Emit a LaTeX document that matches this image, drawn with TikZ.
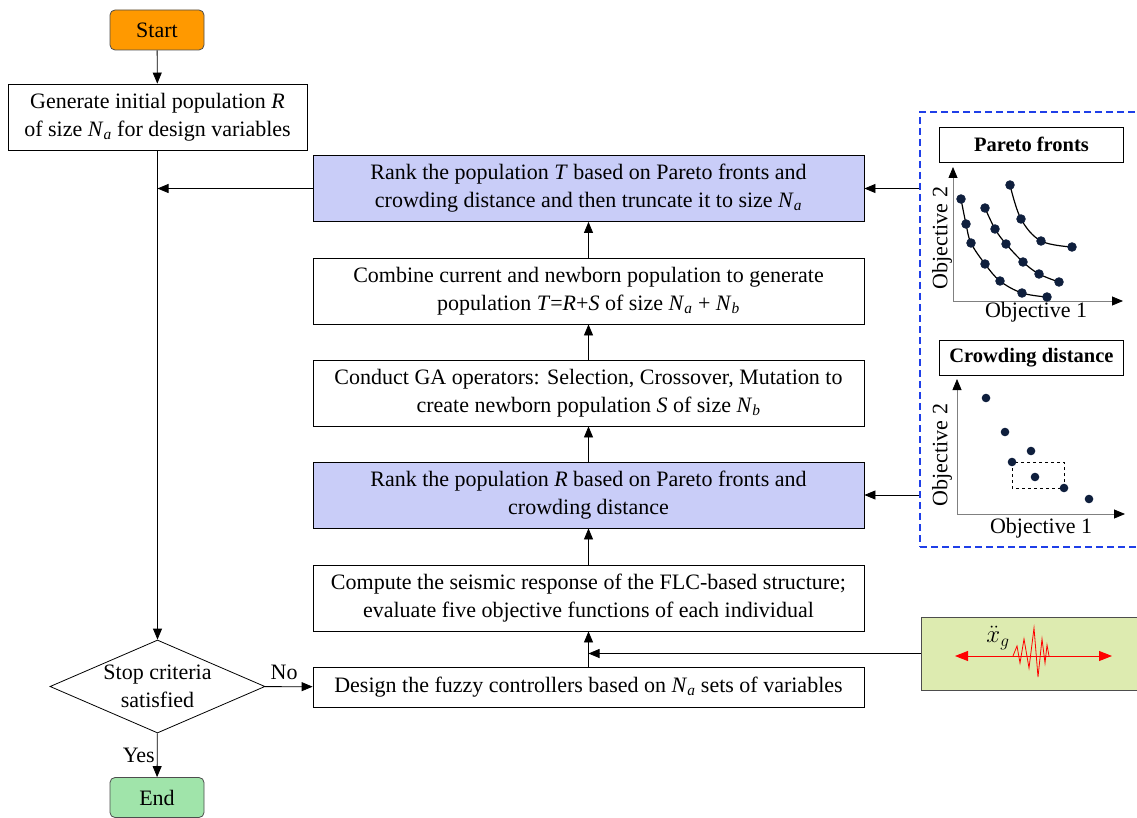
\documentclass[tikz,border=0pt]{standalone}
\usepackage{fontspec}
\setmainfont{Liberation Serif}
\usetikzlibrary{positioning,arrows.meta,shapes.geometric}
\definecolor{startfill}{HTML}{FF9900}
\definecolor{endfill}{HTML}{A0E4AA}
\definecolor{rankfill}{HTML}{C9CDF8}
\definecolor{quakefill}{HTML}{DDEBB0}
\definecolor{panelblue}{HTML}{1F3FE8}
\definecolor{dotblue}{HTML}{0F1F3D}
\definecolor{frame}{HTML}{4D4D4D}
\newcommand{\Na}{\textit{N}\textsubscript{\textit{a}}}
\newcommand{\Nb}{\textit{N}\textsubscript{\textit{b}}}

\begin{document}
\begin{tikzpicture}[x=1pt,y=-1pt,font=\fontsize{22}{28}\selectfont,line width=0.8pt,
    >={Triangle[length=11pt,width=9pt]},
    stepbox/.style={draw,minimum width=551pt,minimum height=66pt,align=center,inner sep=2pt},
    rankbox/.style={stepbox,fill=rankfill},
    term/.style={draw=frame,rounded corners=5pt,minimum width=94pt,minimum height=40pt},
    title/.style={draw,font=\fontsize{20.5}{22}\selectfont\bfseries,minimum width=184pt,minimum height=35pt},
    axlabel/.style={font=\fontsize{22}{24}\selectfont},
    axis/.style={draw=gray,-{Triangle[length=11pt,width=9pt,black]}}]
    \useasboundingbox (0,0) rectangle (1137,818);

    % main flow
    \node[term,fill=startfill] (start) at (157,30) {Start};
    \node[draw,minimum width=299pt,minimum height=66pt,align=center] (init) at (157.5,117)
      {Generate initial population \textit{R}\\of size \Na{} for design variables};
    \node[rankbox] (rankT) at (588.5,188.5)
      {Rank the population \textit{T} based on Pareto fronts and\\crowding distance and then truncate it to size \Na};
    \node[stepbox] (combine) at (588.5,291)
      {Combine current and newborn population to generate\\population \textit{T}=\textit{R}+\textit{S} of size \Na{} + \Nb};
    \node[stepbox] (ga) at (588.5,393)
      {Conduct GA operators: Selection, Crossover, Mutation to\\create newborn population \textit{S} of size \Nb};
    \node[rankbox] (rankR) at (588.5,495)
      {Rank the population \textit{R} based on Pareto fronts and\\crowding distance};
    \node[stepbox] (compute) at (588.5,598)
      {Compute the seismic response of the FLC-based structure;\\evaluate five objective functions of each individual};
    \node[stepbox,minimum height=40pt] (design) at (588.5,687)
      {Design the fuzzy controllers based on \Na{} sets of variables};
    \node[diamond,draw,align=center,aspect=2.3,inner sep=0pt,minimum width=215pt,minimum height=93pt]
      (stop) at (157.5,686.5) {Stop criteria\\satisfied};
    \node[term,fill=endfill] (end) at (157,797.5) {End};

    \draw[->] (start) -- (init);
    \draw[->] (init) -- (stop);
    \coordinate (merge) at (init.south |- rankT);
    \draw[->] (rankT) -- (merge);
    \foreach \a/\b in {design/compute,compute/rankR,rankR/ga,ga/combine,combine/rankT}
      \draw[->] (\a) -- (\b);
    \draw[->] (stop) -- node[above,pos=0.4,inner sep=7pt] (no) {No} (design);
    \draw[->] (stop) -- node[left,inner sep=2pt] (yes) {Yes} (end);

    % NSGA-II sketches
    \node[draw=panelblue,dash pattern=on 7pt off 4pt,line width=1.2pt,minimum width=220pt,
      minimum height=435pt] (panel) at (1030,329.5) {};
    \draw[->] (panel.west |- rankT) -- (rankT);
    \draw[->] (panel.west |- rankR) -- (rankR);

    \node[title] (pareto) at (1031.5,144.5) {Pareto fronts};
    \draw[axis] (953,301) -- (953,167);
    \draw[axis] (953,301) -- (1123,301);
    \node[axlabel] (p1) at (1036,312) {Objective 1};
    \node[axlabel,rotate=90] (p2) at (942,238) {Objective 2};
    \foreach \pts in {{(961,199)(966,224)(971,243)(985,264)(1000,281)(1022,293)(1047,297)},
      {(985,208)(995,229)(1006,244)(1023,262)(1039,274)(1059,282)},
      {(1010,185)(1021,219)(1041,241)(1072,247)}}{
      \draw[line width=1.2pt] plot[smooth,tension=0.6] coordinates {\pts};
      \fill[dotblue] plot[only marks,mark=*,mark size=4.3pt] coordinates {\pts};}

    \node[title] (crowd) at (1031.5,357.5) {Crowding distance};
    \draw[axis] (957,514) -- (957,379);
    \draw[axis] (957,514) -- (1125,514);
    \node[axlabel] (c1) at (1041,528) {Objective 1};
    \node[axlabel,rotate=90] (c2) at (942,455) {Objective 2};
    \draw[dashed,line width=0.7pt] (1012,462) rectangle (1064,488);
    \foreach \x/\y in {986/398,1005/432,1031/451,1012/462,1035/477,1064/488,1089/499}
      \fill[dotblue] (\x,\y) circle (4.3);

    % ground motion input
    \node[draw=frame,fill=quakefill,minimum width=220pt,minimum height=73pt] (quake) at (1031,653.5) {};
    \coordinate (feed) at (design.north |- quake);
    \draw[->] (quake) -- (feed);
    \draw[red,line width=0.9pt,{Triangle[length=13pt,width=10pt]}-{Triangle[length=13pt,width=10pt]}]
      (955,656) -- (1112,656);
    \draw[red,line width=0.8pt] (1013,656) -- (1017,646) -- (1020,663) -- (1024,639) -- (1029,668)
      -- (1034,628) -- (1038,677) -- (1042,639) -- (1045,663) -- (1047,645) -- (1049,656);
    \node[font=\fontsize{26}{28}\selectfont] (xg) at (998,638) {$\ddot{x}_g$};
\end{tikzpicture}
\end{document}
